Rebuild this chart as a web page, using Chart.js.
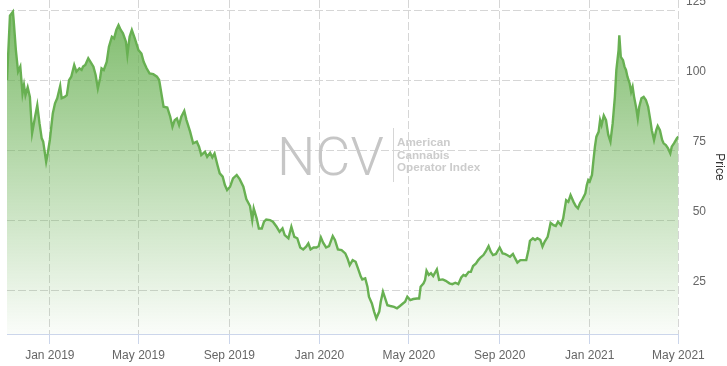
<!DOCTYPE html>
<html>
<head>
<meta charset="utf-8">
<script src="https://cdn.jsdelivr.net/npm/chart.js@4.4.1/dist/chart.umd.min.js"></script>
<style>
  html, body { margin: 0; padding: 0; background: #fff; }
  #wrap { width: 727px; height: 366px; }
</style>
</head>
<body>
<div id="wrap"><canvas id="ncvChart" width="727" height="366"></canvas></div>
<script>
Chart.defaults.font.family = "'Liberation Sans', Arial, sans-serif";
Chart.defaults.font.size = 12;

// x values are days counted from 1 Jan 2019
const dayOffsets = [
  -58, -54, -50, -49, -46, -43, -40, -37, -35, -33, -30, -27, -24, -20, -17, -14, -11, -9, -5, -3,
  0, 4, 7, 10, 14, 16, 20, 23, 26, 29, 33, 36, 40, 43, 45, 48, 52, 55, 59, 62,
  65, 68, 70, 73, 77, 80, 84, 87, 90, 93, 96, 99, 103, 105, 108, 111, 115, 120, 124, 127,
  131, 135, 140, 145, 148, 151, 154, 159, 163, 166, 169, 172, 175, 178, 182, 185, 190, 194, 199, 202,
  205, 210, 213, 217, 220, 223, 227, 230, 234, 237, 240, 244, 248, 253, 257, 262, 266, 271, 274, 276,
  280, 283, 287, 290, 293, 298, 302, 307, 311, 315, 318, 323, 327, 331, 335, 339, 343, 347, 350, 353,
  357, 361, 364, 367, 370, 374, 378, 383, 386, 390, 395, 400, 403, 406, 410, 414, 418, 421, 423, 427,
  430, 432, 436, 439, 442, 446, 448, 451, 454, 457, 461, 466, 470, 474, 478, 481, 484, 488, 492, 497,
  500, 502, 506, 508, 510, 513, 516, 519, 524, 527, 532, 536, 541, 545, 549, 553, 557, 560, 563, 567,
  570, 573, 577, 580, 583, 587, 590, 594, 597, 600, 604, 607, 609, 613, 616, 619, 623, 627, 630, 633,
  637, 641, 645, 648, 650, 654, 657, 660, 664, 667, 670, 674, 676, 678, 682, 685, 688, 692, 695, 699,
  702, 705, 709, 712, 715, 718, 721, 725, 727, 729, 731, 734, 736, 738, 740, 743, 745, 747, 750, 753,
  756, 759, 762, 765, 767, 770, 771, 773, 776, 778, 780, 782, 785, 787, 789, 791, 794, 796, 798, 801,
  804, 807, 810, 813, 815, 818, 821, 823, 826, 829, 831, 834, 837, 840, 842, 845, 849, 851
];
const prices = [
  100, 123, 124.4, 121.4, 110.7, 103, 104.8, 95.2, 98.2, 94.6, 97.4, 94, 81, 86.9, 91, 84.6, 79.2, 78, 70.8, 73.6,
  78.6, 88.1, 91.7, 93.5, 97.9, 93.5, 94, 94.6, 100, 101.2, 105.4, 103, 104.2, 103.6, 104.8, 105.4, 107.8, 106.5, 104.8, 101.8,
  97, 100.6, 104.2, 103.6, 106.5, 111.9, 115.5, 114.9, 117.9, 119.6, 117.9, 116.7, 113.7, 109, 115.5, 117.9, 114.9, 110.7, 109.5, 106.5,
  104.2, 102.4, 102.1, 101.2, 100, 95.2, 90.5, 90.2, 86.9, 83.3, 85.7, 86.3, 83.9, 86.9, 89, 85.7, 81.5, 77.4, 78, 76.2,
  73.2, 74.4, 72.6, 74, 72.4, 73.8, 69.6, 66.7, 65.5, 62.5, 60.7, 61.9, 64.9, 66.1, 64.6, 61.9, 57.5, 55, 50, 54.2,
  50.6, 47, 47, 49.4, 50.2, 50, 49.4, 47.6, 45.8, 47, 44.6, 43.5, 47.6, 44, 43.5, 40.2, 39.5, 40.5, 41.7, 39.5,
  40.2, 40.2, 40.7, 43.8, 41.9, 40.2, 40.7, 44.3, 42.9, 39.5, 39.3, 38.1, 36.3, 33.9, 35.7, 35.1, 32.1, 29.8, 28.8, 29.2,
  26.2, 22.6, 20.2, 17.3, 14.9, 17.3, 20.8, 24.4, 22, 19.6, 19.3, 19, 18.5, 19.3, 20.2, 20.8, 22.6, 21.4, 21.8, 22,
  22, 26.2, 27.4, 28.6, 31.9, 30.4, 31, 30, 32.4, 28.6, 28.8, 28.3, 27.4, 27.1, 27.6, 27.1, 29.5, 30.4, 30, 31.5,
  31.5, 33.6, 34.5, 35.7, 36.6, 37.5, 38.7, 40.7, 38.7, 37.5, 37.9, 39.3, 40.2, 38.1, 37.9, 37.5, 36.9, 37.9, 36.3, 34.8,
  35.7, 35.7, 35.7, 39.3, 42.6, 43.5, 42.9, 43.5, 42.9, 40.5, 42.3, 44, 46.4, 49, 48.2, 47.9, 49.4, 48.2, 50.6, 57.1,
  56.5, 58.9, 56.5, 55, 54.2, 56.2, 57.4, 59.5, 62.5, 64.3, 63.8, 66.1, 71.4, 76.2, 79.8, 81.5, 85.7, 83.9, 87.3, 85.7,
  80.5, 78, 84.5, 94, 103.6, 110.7, 116, 108.3, 107.1, 104.8, 103.6, 101.2, 98.8, 95.8, 97.6, 94, 89.9, 86.3, 90.5, 93.5,
  94, 92.9, 90.5, 85.7, 82.1, 78.6, 82.1, 83.6, 82.1, 78.6, 77.4, 76.8, 75.6, 73.8, 76.2, 77.4, 79.2, 79.8
];

const tickDays = [0, 120, 243, 365, 486, 609, 731, 851];
const tickLabels = ['Jan 2019', 'May 2019', 'Sep 2019', 'Jan 2020', 'May 2020', 'Sep 2020', 'Jan 2021', 'May 2021'];
const priceTicks = [25, 50, 75, 100, 125];

const lineGreen = 'rgb(104, 176, 82)';

// NCV logo watermark in the middle of the plot
const watermark = {
  id: 'watermark',
  beforeDatasetsDraw(chart) {
    const ctx = chart.ctx;
    ctx.save();
    ctx.fillStyle = '#c6c6c6';
    ctx.font = "300 54px Roboto, 'Liberation Sans', sans-serif";
    ctx.textBaseline = 'alphabetic';
    ctx.fillText('NCV', 277, 175);
    ctx.strokeStyle = '#d6d6d6';
    ctx.lineWidth = 1;
    ctx.beginPath();
    ctx.moveTo(393.5, 128);
    ctx.lineTo(393.5, 182);
    ctx.stroke();
    ctx.fillStyle = '#cccccc';
    ctx.font = "bold 11.7px 'Liberation Sans', Arial, sans-serif";
    ['American', 'Cannabis', 'Operator Index'].forEach((t, i) => {
      ctx.fillText(t, 397, 146 + i * 12.5);
    });
    ctx.restore();
  }
};

new Chart(document.getElementById('ncvChart'), {
  type: 'line',
  data: {
    datasets: [
      {
        label: 'Price',
        data: dayOffsets.map((d, i) => ({ x: d, y: prices[i] })),
        borderColor: lineGreen,
        borderWidth: 2.4,
        pointRadius: 0,
        tension: 0,
        fill: 'start',
        backgroundColor: (context) => {
          const area = context.chart.chartArea;
          if (!area) return 'rgba(104,176,82,0.4)';
          const g = context.chart.ctx.createLinearGradient(0, area.top, 0, area.bottom);
          g.addColorStop(0, 'rgba(104,176,82,0.88)');
          g.addColorStop(1, 'rgba(104,176,82,0.03)');
          return g;
        },
      },
    ],
  },
  options: {
    responsive: false,
    animation: false,
    layout: { padding: { left: 7, top: 0, right: 0, bottom: 0 } },
    plugins: {
      legend: { display: false },
      tooltip: { enabled: false },
    },
    scales: {
      x: {
        type: 'linear',
        min: -58,
        max: 851,
        afterBuildTicks: (scale) => {
          scale.ticks = tickDays.map((v) => ({ value: v }));
        },
        afterFit: (scale) => {
          scale.height = 32;
          scale.paddingLeft = 0;
          scale.paddingRight = 0;
        },
        ticks: {
          color: '#666',
          padding: 4,
          maxRotation: 0,
          autoSkip: false,
          callback: (value, index) => tickLabels[index],
        },
        grid: {
          color: '#d6d6d6',
          tickColor: '#ccd6eb',
          tickLength: 10,
        },
        border: { color: '#ccd6eb', dash: [8, 3] },
      },
      y: {
        position: 'right',
        weight: 0,
        min: 9.3,
        max: 128.6,
        afterBuildTicks: (scale) => {
          scale.ticks = priceTicks.map((v) => ({ value: v }));
        },
        afterFit: (scale) => {
          scale.width = 27.6;
          scale.paddingTop = 0;
          scale.paddingBottom = 0;
        },
        ticks: {
          color: '#666',
          padding: 8,
          crossAlign: 'far',
          labelOffset: -8,
        },
        grid: { color: '#d6d6d6', drawTicks: false },
        border: { display: false, dash: [8, 3] },
      },
      // outer axis that only carries the "Price" title
      yTitle: {
        position: 'right',
        weight: 1,
        min: 9.3,
        max: 128.6,
        afterFit: (scale) => {
          scale.width = 21;
          scale.paddingTop = 0;
          scale.paddingBottom = 0;
        },
        ticks: { display: false },
        grid: { display: false },
        border: { display: false },
        title: {
          display: true,
          text: 'Price',
          color: '#333',
          padding: { top: 0, bottom: 0 },
        },
      },
    },
  },
  plugins: [watermark],
});
</script>
</body>
</html>
